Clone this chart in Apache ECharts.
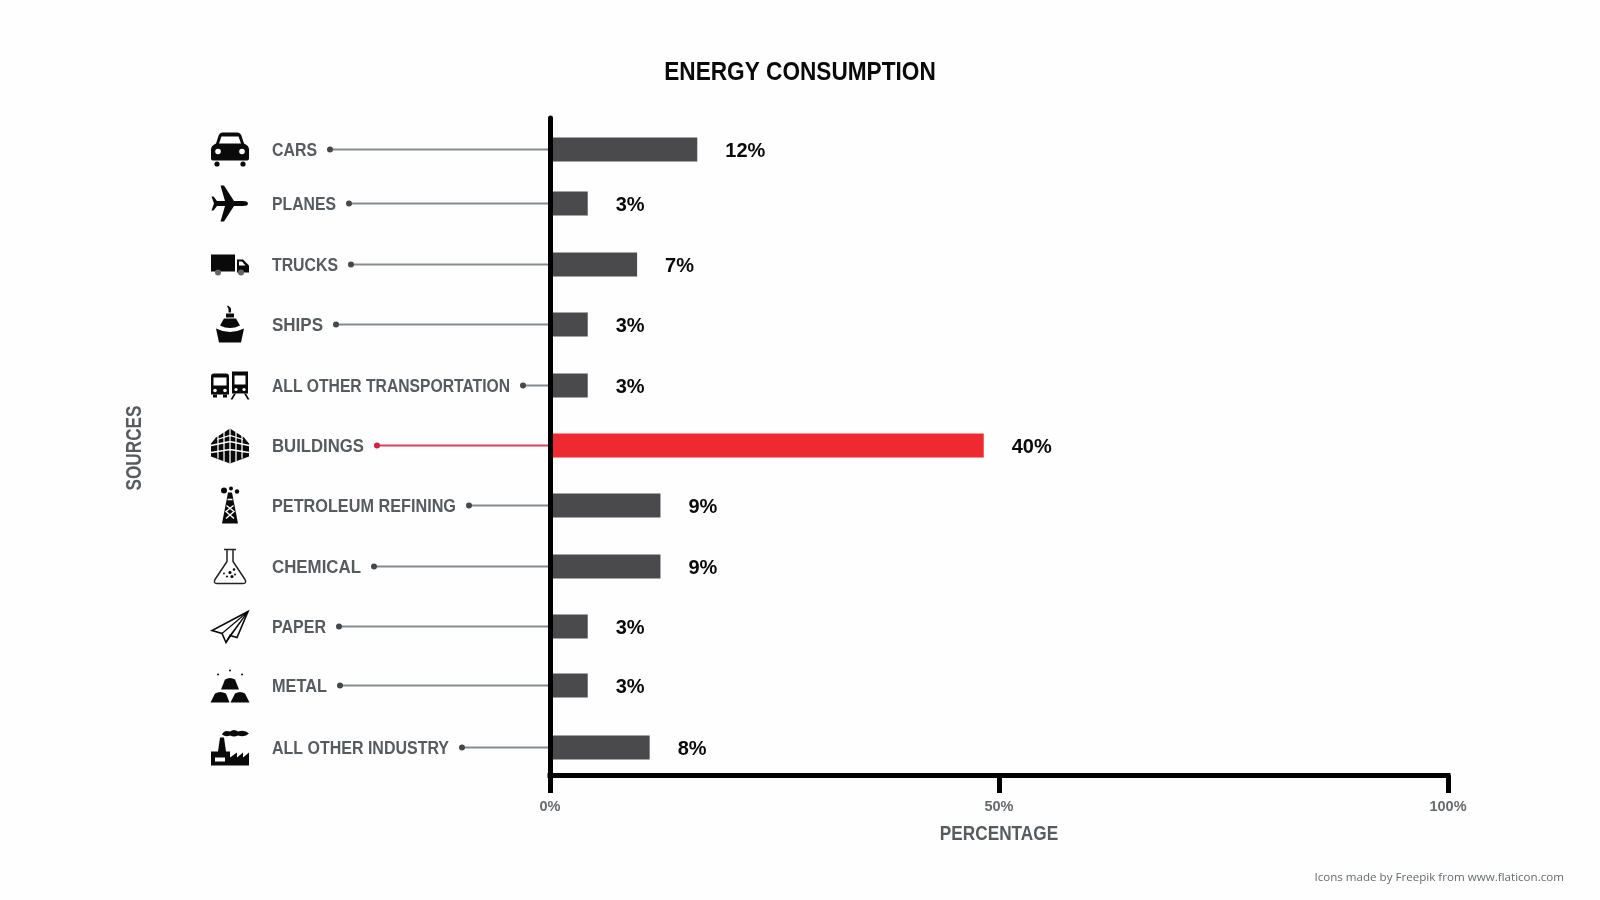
<!DOCTYPE html>
<html><head><meta charset="utf-8">
<style>html,body{margin:0;padding:0;background:#fefefe}#c{width:1600px;height:900px}</style>
<script src="https://cdn.jsdelivr.net/npm/echarts@6/dist/echarts.min.js"></script>
</head><body><div id="c"></div>
<script>
// ---- data ----
const categories = ['CARS','PLANES','TRUCKS','SHIPS','ALL OTHER TRANSPORTATION','BUILDINGS','PETROLEUM REFINING','CHEMICAL','PAPER','METAL','ALL OTHER INDUSTRY'];
const printedPercent = [12,3,7,3,3,40,9,9,3,3,8];
const barLengthOnAxis = [16.4,4.2,9.7,4.2,4.2,48.3,12.3,12.3,4.2,4.2,11.1];
const xTicks = [0,50,100];
const highlighted = 'BUILDINGS';

// ---- layout ----
const FONT = '"Liberation Sans",sans-serif';
const rowSlot = [31,85,146,206,267,327,387,448,508,567,629]; // unevenly spaced rows
const labelWidthPx = [45,64,66,51,238,92,184,89,54,55,177]; // condensed widths of the row labels
const SLOT_COUNT = 657;
const slots = Array.from({length:SLOT_COUNT},(_,i)=>{const r=rowSlot.indexOf(i);return r<0?'':categories[r];});

const B='#0a0a0a', W='#ffffff';
const dot=(x,y,r)=>`M${x-r} ${y}a${r} ${r} 0 1 0 ${2*r} 0a${r} ${r} 0 1 0 ${-2*r} 0Z`;
const icons = [
 [{d:'M8 8Q9 3 13 3H27Q31 3 32 8L34 14Q39 16 39 20V29Q39 31 37 31H3Q1 31 1 29V20Q1 16 6 14Z',f:B},{d:'M11.500 7H28.500L31 14H9Z',f:W},{d:dot(8,22,2.8),f:W},{d:dot(32,22,2.8),f:W},{d:dot(7,34.5,2.6),f:B},{d:dot(33,34.5,2.6),f:B}],
 [{d:'M38 20Q38 17.500 33 17.500H24L14 2H10.500L15 17.500H7L3.500 13H1.500L4 20L1.500 27H3.500L7 22.500H15L10.500 38H14L24 22.500H33Q38 22.500 38 20Z',f:B}],
 [{d:'M1 10H25V27H1Z',f:B},{d:'M27 15H33L39 21V28H27Z',f:B},{d:'M29 17H32L35.500 21H29Z',f:W},{d:dot(8,28,3),f:'#666'},{d:dot(31,28,3),f:'#666'}],
 [{d:'M18.500 8H21V5Q21 3 18 1L17 2Q18.500 3.500 18.500 5Z',f:B},{d:'M16 13V9H24V13Z',f:B},{d:'M10 21L14 14H26L30 21Q20 26 10 21Z',f:B},{d:'M6 24Q20 31 34 24L31 38H9Z',f:B}],
 [{d:'M1 11Q1 8 4 8H16Q19 8 19 11V29H1Z',f:B},{d:'M3.500 12H16.500V20H3.500Z',f:W},{d:dot(5,25,1.8),f:W},{d:dot(15,25,1.8),f:W},{d:'M3 29H7V32H3ZM13 29H17V32H13Z',f:B},
  {d:'M22 6H38V28H22Z',f:B},{d:'M24.500 10H35.500V19H24.500Z',f:W},{d:dot(26,24,1.6),f:W},{d:dot(34,24,1.6),f:W},{d:'M24 28L20.500 34H22.500L26 28ZM34 28L37.500 34H39.500L36 28Z',f:B}],
 [{d:'M20 3L34 12L39 18V31L20 38L1 31V18L6 12Z',f:B},{d:'M1 20L20 16L39 20M1 27L20 24L39 27M14 4V36M26 4V36M20 3V38M8 10V33M32 10V33M7 14L20 10L33 14',s:W,w:1.3}],
 [{d:dot(14,5,3),f:B},{d:dot(21,3,2),f:B},{d:dot(27,6,2.2),f:B},{d:'M18 7H22L28 38H12Z',f:B},{d:'M16.500 20L24 26L16 33M23.500 20L16 26L24 33M17.500 14H22.500',s:W,w:1.4}],
 [{d:'M14 3H26M17 3V15L5 33Q3 37 7 37H33Q37 37 35 33L23 15V3',s:'#222',w:1.5,f:W},{d:dot(20,26,1.6)+dot(24,23,1.3)+dot(17,30,1.1)+dot(22,30,1.6)+dot(25,28,1)+dot(14,27,.9),f:B}],
 [{d:'M38 5L2 24L12 27L16 36L20 29L27 31Z',s:B,w:1.6,f:W},{d:'M38 5L12 27M38 5L20 29M38 5L16 36',s:B,w:1.2}],
 [{d:dot(8,9,1)+dot(20,5,1)+dot(32,9,1),f:B},{d:'M11 24L15 14Q20 11 25 14L29 24Z',f:B},{d:'M0.500 37L5 28Q10 25 16 28L19.500 37Z',f:B},{d:'M20.500 37L25 28Q30 25 35 28L39.500 37Z',f:B}],
 [{d:'M12 7Q14 2 20 4Q24 1 28 4Q35 2 39 6Q35 10 28 8Q24 10 20 8Q16 10 12 7Z',f:B},{d:'M1 38V24H8L10 10H14L16 24H20V30L27 25V30L33 25V30L39 25V38Z',f:B},{d:'M5 30H15V34H5Z',f:W}]
];

const labelFont = 'bold 18.5px '+FONT;
const measure = document.createElement('canvas').getContext('2d');
function textWidth(t,font){measure.font=font;return measure.measureText(t).width;}

const barData = rowSlot.map((s,i)=>({
  value:[barLengthOnAxis[i],s],
  printed:printedPercent[i],
  itemStyle:{color:categories[i]===highlighted?'#ee2a30':'#4a4a4c'}
}));

function renderRow(params,api){
  const i=api.value(2), p=api.coord([0,api.value(1)]), ax=p[0], y=p[1];
  const red=categories[i]===highlighted;
  const lx=ax-278;
  const squeeze=labelWidthPx[i]/textWidth(categories[i],labelFont);
  const dotX=lx+labelWidthPx[i]+13;
  const kids=[
   {type:'line',shape:{x1:dotX,y1:y,x2:ax,y2:y},style:{stroke:red?'#d9405a':'#858a90',lineWidth:2}},
   {type:'circle',shape:{cx:dotX,cy:y,r:3},style:{fill:red?'#d4213f':'#44484c'}},
   {type:'text',x:lx,y:y+1.5,scaleX:squeeze,style:{text:categories[i],x:0,y:0,font:labelFont,fill:'#565b60',verticalAlign:'middle',textAlign:'left'}}
  ];
  icons[i].forEach(part=>{
    kids.push({type:'path',
      shape:{pathData:'M0 0L0 0M40 40L40 40'+part.d,x:ax-340,y:y-20,width:40,height:40,layout:'center'},
      style:{fill:part.f||'none',stroke:part.s||null,lineWidth:part.w||0}});
  });
  return {type:'group',children:kids};
}

const chart=echarts.init(document.getElementById('c'),null,{renderer:'canvas'});
chart.setOption({
 animation:false,
 backgroundColor:'#fefefe',
 grid:{left:550,right:152,top:118,bottom:125,containLabel:false},
 xAxis:{type:'value',min:xTicks[0],max:xTicks[2],interval:xTicks[1],z:3,
   axisLine:{show:true,lineStyle:{color:'#000',width:5,cap:'square'}},
   axisTick:{show:true,length:18,lineStyle:{color:'#000',width:5}},
   axisLabel:{formatter:'{value}%',margin:24,fontFamily:FONT,fontWeight:'bold',fontSize:14.5,color:'#666b70'},
   splitLine:{show:false}},
 yAxis:{type:'category',inverse:true,data:slots,z:3,
   axisLine:{show:true,lineStyle:{color:'#000',width:5}},
   axisTick:{show:false},axisLabel:{show:false},splitLine:{show:false}},
 series:[
  {type:'bar',encode:{x:0,y:1},barWidth:24,barGap:'-100%',data:barData,
   label:{show:true,position:'right',distance:28,offset:[0,1.5],fontFamily:FONT,fontWeight:'bold',fontSize:20,color:'#0a0a0a',
     formatter:p=>p.data.printed+'%'}},
  {type:'custom',coordinateSystem:'cartesian2d',clip:false,z:1,renderItem:renderRow,
   encode:{x:0,y:1},data:rowSlot.map((s,i)=>[0,s,i])}
 ],
 graphic:[
  {type:'text',x:800,y:73,scaleX:0.87,style:{text:'ENERGY CONSUMPTION',x:0,y:0,textAlign:'center',verticalAlign:'middle',font:'bold 26px '+FONT,fill:'#0a0a0a'}},
  {type:'text',x:999,y:834,scaleX:0.82,style:{text:'PERCENTAGE',x:0,y:0,textAlign:'center',verticalAlign:'middle',font:'bold 21px '+FONT,fill:'#565b60'}},
  {type:'text',x:135,y:448,rotation:Math.PI/2,scaleX:0.78,style:{text:'SOURCES',x:0,y:0,textAlign:'center',verticalAlign:'middle',font:'bold 22px '+FONT,fill:'#565b60'}},
  {type:'text',x:1564,y:878,style:{text:'Icons made by Freepik from www.flaticon.com',x:0,y:0,textAlign:'right',verticalAlign:'middle',font:'11.6px "Open Sans",sans-serif',fill:'#666b70'}}
 ]
});
</script></body></html>
